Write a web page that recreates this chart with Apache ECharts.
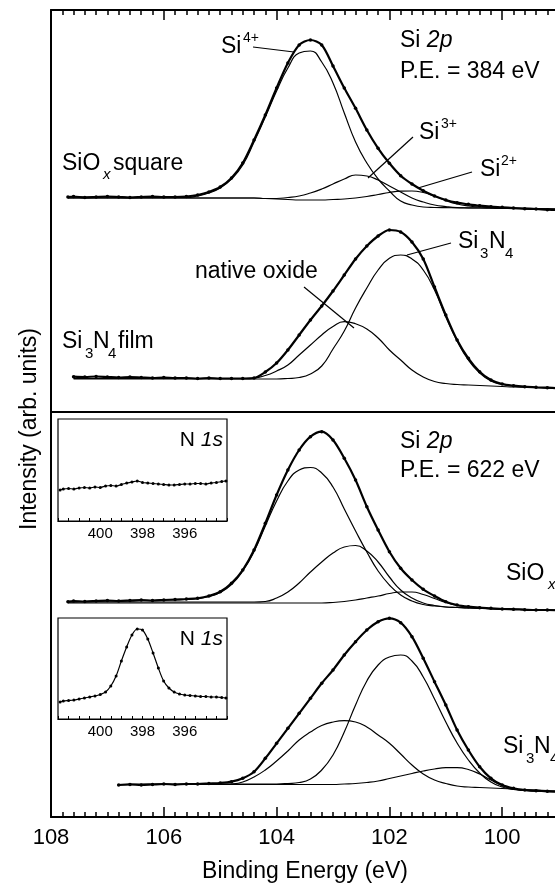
<!DOCTYPE html>
<html>
<head>
<meta charset="utf-8">
<script src="https://cdn.jsdelivr.net/npm/echarts@6/dist/echarts.min.js"></script>
<style>
html, body { margin: 0; padding: 0; background: #fff; overflow: hidden; }
/* the original figure is cut at the right edge, so the chart is wider than the page */
#chart { width: 620px; height: 888px; }
</style>
</head>
<body>
<div id="chart"></div>
<script>
// binding energy (eV) of the Si 2p points
const energy = [107.7, 107.6, 107.4, 107.2, 107.0, 106.8, 106.6, 106.4, 106.2, 106.0, 105.8, 105.6, 105.4, 105.2, 105.0,
  104.8, 104.6, 104.4, 104.2, 104.0, 103.8, 103.6, 103.4, 103.2, 103.0, 102.8, 102.6, 102.4, 102.2, 102.0,
  101.8, 101.6, 101.4, 101.2, 101.0, 100.8, 100.6, 100.4, 100.2, 100.0, 99.8, 99.6, 99.4, 99.2, 99.0]

// upper panel (P.E. = 384 eV), heights in arb. units
const squareData = [215, 215.5, 214.5, 215, 215.5, 215, 214.5, 215, 215.5, 215, 215, 215.5, 217, 220, 225,
  234, 249, 272, 297, 324, 349, 367, 372, 367, 346, 324, 303.7, 282, 263.7, 248.7,
  236.3, 228, 221.3, 216, 212, 209.3, 207.7, 206.3, 205.3, 204.7, 204, 203.3, 203, 202.3, 202]
const squareSi4 = [215, 215, 215, 215, 215, 215, 214.5, 214.5, 214.5, 214.5, 214.5, 214.5, 216, 219, 224,
  233, 247, 270, 295, 321, 344, 359, 361, 350, 329, 299, 270, 249, 233, 221,
  211, 207, 205, 204.5, 204.3, 204.2, 204, 204, 203.8, 203.6, 203.4, 203.2, 203, 202.8, 202.5]
const squareSi3 = [214, 214, 214, 214, 214, 214, 214, 214, 214, 214, 214, 214, 214, 214, 214,
  214, 214, 214, 213.5, 213.5, 214.5, 216, 219, 223, 228, 233, 237, 236, 232, 226,
  220, 214, 210, 207, 205.5, 204.5, 204.2, 204, 204, 203.8, 203.6, 203.4, 203.2, 203, 202.8]
const squareSi2 = [214, 214, 214, 214, 214, 214, 214, 214, 214, 214, 214, 214, 214, 214, 214,
  214, 214, 214, 213.5, 213, 212.5, 212, 212, 212, 212.5, 213, 214, 215.5, 217.5, 219.5,
  220.8, 221, 219.5, 216, 211.5, 208, 206, 205, 204.5, 204.2, 204, 203.7, 203.4, 203.1, 202.8]

const filmData = [null, 35.3, 35, 35.5, 35, 34.5, 35, 34.5, 34, 34.5, 34, 34, 33.5, 34, 33.5,
  33.5, 33.5, 34, 40, 49, 62, 77, 92, 106, 121, 137, 153, 166, 176, 182,
  180, 170, 153, 125, 97, 72, 53.7, 40.3, 32, 28, 26.3, 25.3, 24.7, 24.3, 23.7]
const filmNitride = [null, 33, 33, 33, 33, 33, 33, 33, 33, 33, 33, 33, 33, 33, 33,
  33, 33, 33, 33, 33, 33.5, 34.5, 38, 46, 63, 81, 104, 124, 142, 153.7,
  157, 153, 142, 122, 95, 71, 52, 39, 31, 27.5, 26, 25, 24.5, 24, 23.7]
const filmOxide = [null, 33.5, 33.5, 33.5, 33.5, 33.5, 33.5, 33.5, 33.5, 33.5, 33.5, 33.5, 33.5, 33.5, 33.5,
  33.5, 33.5, 34, 36.5, 41, 47, 57, 67, 77, 85.5, 90.3, 88.3, 83, 74, 62,
  52, 42, 35, 30.5, 28.5, 27.5, 27, 26.5, 26, 25.5, 25, 24.8, 24.5, 24.2, 24]

// lower panel (P.E. = 622 eV)
const oxData = [215.3, 216, 215.5, 216, 216.5, 216, 216.5, 217, 216.5, 217, 217.5, 218, 218.7, 221, 225.3,
  233.7, 247, 267, 293.7, 322, 347, 367, 380.3, 385.3, 377, 358.7, 337, 310.3, 287, 265.3,
  248.7, 237, 227.7, 221, 215.3, 212, 210.3, 209.3, 208.7, 208, 207.7, 207.3, 207, 207, 206.7]
const oxSi4 = [215, 215, 215.5, 215.5, 216, 216, 216, 216.5, 216.5, 217, 217, 217.5, 218.5, 220.5, 224.5,
  232.5, 246, 265.5, 291, 316, 336, 347, 349.5, 344, 330, 308, 286, 265, 246, 232,
  222, 216, 212.5, 211, 210, 209.5, 209, 208.7, 208.4, 208, 207.7, 207.4, 207.1, 206.9, 206.7]
const oxSi3 = [215, 215, 215, 215, 215, 215, 215, 215, 215, 215, 215, 215, 215, 215, 215,
  215, 215, 215, 215.5, 219, 225, 234, 245, 255, 264, 270, 271.5, 266, 255, 240,
  227, 219, 214, 211.5, 210, 209.5, 209, 208.7, 208.4, 208, 207.7, 207.4, 207.1, 206.9, 206.7]
const oxSi2 = [214, 214, 214, 214, 214, 214, 214, 214, 214, 214, 214, 214, 214, 214, 214,
  214, 214, 214, 214, 214, 214, 214, 214, 214, 214.5, 215.5, 217, 219, 221, 223.5,
  225, 225, 222.5, 218.5, 214.5, 211.5, 210, 209, 208.5, 208, 207.7, 207.4, 207.1, 206.9, 206.7]

const nitData = [null, null, null, null, null, 32, 32.5, 32, 32.5, 33, 32.5, 33, 33, 33.5, 34,
  35.3, 38.7, 45.3, 58.7, 73.7, 88.7, 103.7, 118.7, 133.7, 147, 162, 175.3, 187, 195.3, 198.7,
  194.3, 180.3, 158.7, 135.3, 112, 87, 67, 50.3, 38.7, 32, 28.7, 27, 26.3, 25.7, 25.3]
const nitNitride = [null, null, null, null, null, 32.5, 33, 33, 33, 33, 33, 33, 33, 33, 33,
  33, 33, 33, 33, 33, 33.5, 34.5, 38, 47, 62, 85, 112, 136, 152, 160,
  162, 156, 140, 118, 95, 74, 57, 44, 35, 30, 27.5, 26.5, 26, 25.5, 25.3]
const nitOxide = [null, null, null, null, null, 32.5, 32.5, 32.5, 32.5, 32.5, 32.5, 32.5, 32.5, 32.5, 32.5,
  33, 35, 40, 47, 56, 66, 77, 85, 91.5, 95, 96.3, 95, 90, 82, 73.7,
  63, 52, 43, 37, 33.5, 31, 30, 29.5, 29, 28.5, 28, 27.5, 27, 26.5, 26]
const nitLow = [null, null, null, null, null, 32.5, 32.5, 32.5, 32.5, 32.5, 32.5, 32.5, 32.5, 32.5, 32.5,
  32.5, 32.5, 32.5, 32.5, 32.5, 32.5, 32.5, 32.5, 32.5, 32.5, 33, 33.5, 34.5, 36, 38.5,
  41, 43.5, 46, 48, 49.3, 49.3, 47.5, 43, 37, 31.5, 28, 26.5, 26, 25.5, 25.3]

// N 1s insets
const n1sEnergy = [401.9, 401.75, 401.5, 401.25, 401, 400.75, 400.5, 400.25, 400, 399.75, 399.5, 399.25, 399,
  398.75, 398.5, 398.25, 398, 397.75, 397.5, 397.25, 397, 396.75, 396.5, 396.25, 396, 395.75, 395.5,
  395.25, 395, 394.75, 394.5, 394.25, 394.05]
const n1sOxide = [31, 32, 32.5, 32, 33, 33.5, 33, 34, 33.5, 35, 35.5, 35, 36.5, 38, 39, 40, 38.5, 38, 37.5,
  37, 36.5, 36, 36, 36.5, 37, 37, 37.5, 37.5, 37, 38, 38.5, 39.5, 40]
const n1sNitride = [17, 18, 18.5, 19, 20, 21, 22, 23, 24.5, 27, 33, 43, 58, 72, 84, 90, 89, 80, 66, 51,
  38, 31, 27, 25, 24, 23.5, 23, 22.5, 22.5, 22, 22, 21.5, 21]

const bigTicks = ["108", "106", "104", "102", "100"]
const smallTicks = ["400", "398", "396"]

const FONT = "Liberation Sans"

function pairs(xs, ys) {
  let out = []
  xs.forEach((x, i) => {
    if (ys[i] != null) out.push([x, ys[i]])
  })
  return out
}

function dataSeries(ys, g) {
  return {
    type: "line",
    xAxisIndex: g,
    yAxisIndex: g,
    data: pairs(energy, ys),
    smooth: 0.3,
    symbol: "circle",
    symbolSize: 3.5,
    showSymbol: true,
    itemStyle: { color: "#000" },
    lineStyle: { color: "#000", width: 2.2 },
    z: 4,
  }
}

function fitSeries(ys, g) {
  return {
    type: "line",
    xAxisIndex: g,
    yAxisIndex: g,
    data: pairs(energy, ys),
    smooth: 0.5,
    showSymbol: false,
    lineStyle: { color: "#000", width: 1.2 },
    z: 3,
  }
}

function insetSeries(ys, g) {
  return {
    type: "line",
    xAxisIndex: g,
    yAxisIndex: g,
    data: pairs(n1sEnergy, ys),
    smooth: 0.3,
    symbol: "circle",
    symbolSize: 3,
    itemStyle: { color: "#000" },
    lineStyle: { color: "#000", width: 1.2 },
    z: 6,
  }
}

function mainX(g, pos, labels) {
  return {
    type: "value",
    gridIndex: g,
    position: pos,
    inverse: true,
    min: 98,
    max: 108,
    interval: 2,
    axisLine: { onZero: false, lineStyle: { color: "#000", width: 2 } },
    axisTick: { inside: true, length: 10, lineStyle: { color: "#000", width: 1.5 } },
    minorTick: { show: true, splitNumber: 10, length: 5, lineStyle: { color: "#000", width: 1.5 } },
    splitLine: { show: false },
    axisLabel: {
      show: labels,
      margin: 10,
      color: "#000",
      fontFamily: FONT,
      fontSize: 22,
      formatter: (v) => (bigTicks.includes(String(v)) ? String(v) : ""),
    },
  }
}

function insetX(g) {
  return {
    type: "value",
    gridIndex: g,
    inverse: true,
    min: 394,
    max: 402,
    interval: 2,
    axisLine: { onZero: false, lineStyle: { color: "#000", width: 1.2 } },
    axisTick: { inside: true, length: 3, lineStyle: { color: "#000" } },
    minorTick: { show: true, splitNumber: 4, length: 3, lineStyle: { color: "#000" } },
    splitLine: { show: false },
    axisLabel: {
      margin: 5,
      color: "#000",
      fontFamily: FONT,
      fontSize: 15,
      formatter: (v) => (smallTicks.includes(String(v)) ? String(v) : ""),
    },
  }
}

function txt(x, base, text, size, extra) {
  size = size || 23
  return {
    type: "text",
    x: x,
    y: base - 0.35 * size,
    z: 20,
    style: Object.assign(
      { text: text, fill: "#000", fontFamily: FONT, fontSize: size, verticalAlign: "middle", align: "left" },
      extra || {}
    ),
  }
}

function lead(x1, y1, x2, y2) {
  return { type: "line", z: 20, shape: { x1, y1, x2, y2 }, style: { stroke: "#000", lineWidth: 1.2 } }
}

const italic = { rich: { i: { fontStyle: "italic", fontFamily: FONT, fontSize: 23 }, n: { fontFamily: FONT, fontSize: 23 } } }
const italic21 = { rich: { i: { fontStyle: "italic", fontFamily: FONT, fontSize: 21 }, n: { fontFamily: FONT, fontSize: 21 } }, align: "right" }

const plainY = (g, max) => ({
  type: "value",
  gridIndex: g,
  min: 0,
  max: max,
  axisLine: { show: true, onZero: false, lineStyle: { color: "#000", width: 2 } },
  axisTick: { show: false },
  axisLabel: { show: false },
  splitLine: { show: false },
})

let myChart = echarts.init(document.getElementById("chart"))

myChart.setOption({
  animation: false,
  backgroundColor: "#fff",
  grid: [
    { left: 51, top: 10, width: 564, height: 402, outerBoundsMode: "none" },
    { left: 51, top: 412, width: 564, height: 405, outerBoundsMode: "none" },
    { left: 58, top: 419, width: 169, height: 102, outerBoundsMode: "none", show: true, backgroundColor: "#fff", borderColor: "#000", borderWidth: 1.2 },
    { left: 58, top: 618, width: 169, height: 101, outerBoundsMode: "none", show: true, backgroundColor: "#fff", borderColor: "#000", borderWidth: 1.2 },
  ],
  xAxis: [
    mainX(0, "top", false),
    mainX(1, "bottom", true),
    insetX(2),
    insetX(3),
    // divider between the two panels
    {
      type: "value",
      gridIndex: 1,
      position: "top",
      min: 98,
      max: 108,
      axisLine: { onZero: false, lineStyle: { color: "#000", width: 2 } },
      axisTick: { show: false },
      axisLabel: { show: false },
      splitLine: { show: false },
    },
  ],
  yAxis: [
    plainY(0, 402),
    plainY(1, 405),
    { type: "value", gridIndex: 2, min: 0, max: 102, show: false },
    { type: "value", gridIndex: 3, min: 0, max: 101, show: false },
  ],
  series: [
    fitSeries(squareSi4, 0),
    fitSeries(squareSi3, 0),
    fitSeries(squareSi2, 0),
    dataSeries(squareData, 0),
    fitSeries(filmNitride, 0),
    fitSeries(filmOxide, 0),
    dataSeries(filmData, 0),
    fitSeries(oxSi4, 1),
    fitSeries(oxSi3, 1),
    fitSeries(oxSi2, 1),
    dataSeries(oxData, 1),
    fitSeries(nitNitride, 1),
    fitSeries(nitOxide, 1),
    fitSeries(nitLow, 1),
    dataSeries(nitData, 1),
    insetSeries(n1sOxide, 2),
    insetSeries(n1sNitride, 3),
  ],
  graphic: [
    // upper panel
    txt(400, 49, "{n|Si }{i|2p}", 23, italic),
    txt(400, 80, "P.E. = 384 eV"),
    txt(221, 55, "Si"), txt(243, 43, "4+", 14),
    txt(419, 141, "Si"), txt(441, 129, "3+", 14),
    txt(480, 178, "Si"), txt(501, 166, "2+", 14),
    txt(62, 172, "SiO"), txt(103, 180, "x", 15, { fontStyle: "italic" }), txt(113, 172, "square"),
    txt(195, 280, "native oxide"),
    txt(458, 250, "Si"), txt(480, 259, "3", 15), txt(489, 250, "N"), txt(505, 259, "4", 15),
    txt(62, 350, "Si"), txt(85, 359, "3", 15), txt(93, 350, "N"), txt(108, 359, "4", 15), txt(118, 350, "film"),
    lead(253, 47, 294, 52),
    lead(413, 137, 368, 178),
    lead(472, 172, 418, 188),
    lead(304, 287, 354, 328),
    lead(451, 243, 407, 255),
    // lower panel
    txt(400, 450, "{n|Si }{i|2p}", 23, italic),
    txt(400, 479, "P.E. = 622 eV"),
    txt(506, 582, "SiO"), txt(548, 590, "x", 15, { fontStyle: "italic" }),
    txt(503, 755, "Si"), txt(526, 764, "3", 15), txt(534, 755, "N"), txt(550, 764, "4", 15),
    txt(223, 448, "{n|N }{i|1s}", 21, italic21),
    txt(223, 647, "{n|N }{i|1s}", 21, italic21),
    // axis titles
    txt(305, 880, "Binding Energy (eV)", 23, { align: "center" }),
    {
      type: "text",
      x: 30,
      y: 429,
      rotation: Math.PI / 2,
      z: 20,
      style: { text: "Intensity (arb. units)", fill: "#000", fontFamily: FONT, fontSize: 23, align: "center", verticalAlign: "middle" },
    },
  ],
})

window.addEventListener("resize", () => {
  myChart.resize()
})
</script>
</body>
</html>
